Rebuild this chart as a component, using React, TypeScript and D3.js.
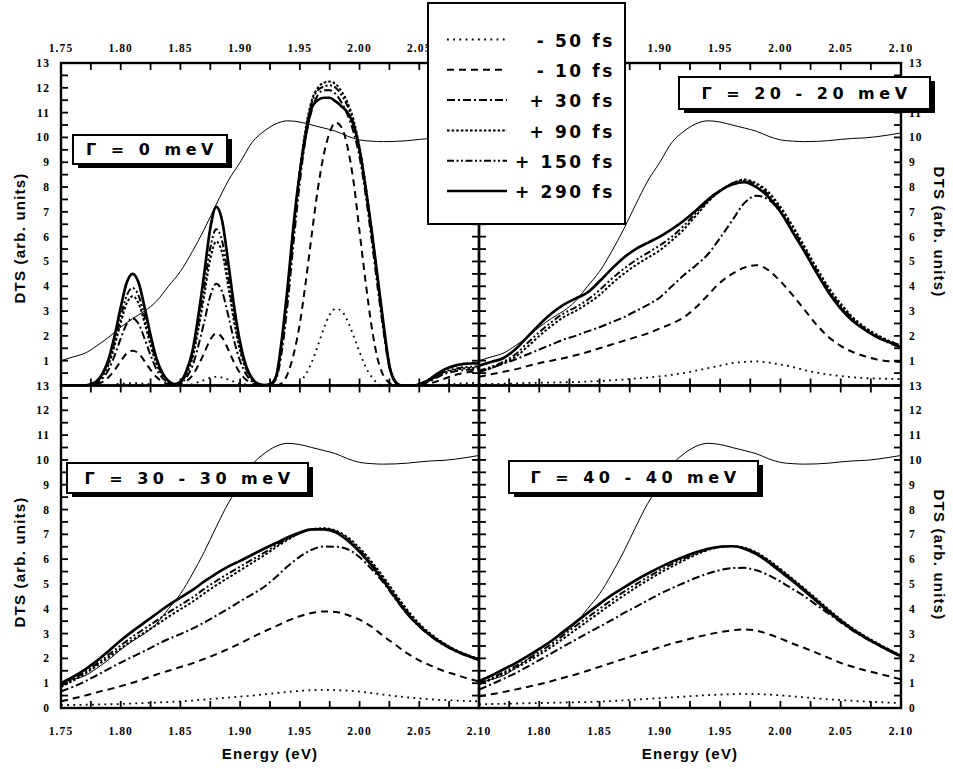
import React from "react";
import * as d3 from "d3";

// photon energy grids (eV)
const energyFine = [
  1.75, 1.755, 1.76, 1.765, 1.77, 1.775, 1.78, 1.785, 1.79, 1.795,
  1.8, 1.805, 1.81, 1.815, 1.82, 1.825, 1.83, 1.835, 1.84, 1.845,
  1.85, 1.855, 1.86, 1.865, 1.87, 1.875, 1.88, 1.885, 1.89, 1.895,
  1.9, 1.905, 1.91, 1.915, 1.92, 1.925, 1.93, 1.935, 1.94, 1.945,
  1.95, 1.955, 1.96, 1.965, 1.97, 1.975, 1.98, 1.985, 1.99, 1.995,
  2.0, 2.005, 2.01, 2.015, 2.02, 2.025, 2.03, 2.035, 2.04, 2.045,
  2.05, 2.055, 2.06, 2.065, 2.07, 2.075, 2.08, 2.085, 2.09, 2.095, 2.1,
];
const energy = [
  1.75, 1.76, 1.77, 1.78, 1.79, 1.8, 1.81, 1.82, 1.83, 1.84,
  1.85, 1.86, 1.87, 1.88, 1.89, 1.9, 1.91, 1.92, 1.93, 1.94,
  1.95, 1.96, 1.97, 1.98, 1.99, 2.0, 2.01, 2.02, 2.03, 2.04,
  2.05, 2.06, 2.07, 2.08, 2.09, 2.1,
];

// thin line, same in every panel
const absorption = [
  1.0, 1.15, 1.3, 1.6, 1.95, 2.35, 2.7, 3.0, 3.4, 4.0,
  4.6, 5.4, 6.3, 7.3, 8.25, 9.0, 9.8, 10.25, 10.55, 10.67,
  10.62, 10.5, 10.38, 10.25, 10.05, 9.9, 9.85, 9.83, 9.84, 9.87,
  9.92, 9.96, 9.98, 10.03, 10.1, 10.18,
];

const delays = ["- 50 fs", "- 10 fs", "+ 30 fs", "+ 90 fs", "+ 150 fs", "+ 290 fs"];

// Γ = 0 meV (fine grid)
const g0m50 = [0,0,0,0,0, 0,0,0,0,0.05, 0.07,0.09,0.1,0.09,0.07, 0.05,0.02,0,0,0, 0,0,0.05,0.14,0.22, 0.31,0.35,0.32,0.24,0.15, 0.08,0.04,0,0,0, 0,0,0,0,0, 0.15,0.45,0.95,1.6,2.3, 2.85,3.1,3.0,2.6,2.0, 1.35,0.75,0.35,0.1,0, 0,0,0,0,0, 0,0,0.01,0.02,0.03, 0.05,0.06,0.08,0.09,0.1,0.1];
const g0m10 = [0,0,0,0,0, 0.01,0.06,0.15,0.34,0.63, 0.98,1.29,1.4,1.29,0.98, 0.63,0.34,0.15,0.06,0.03, 0.06,0.17,0.4,0.82,1.32, 1.85,2.1,1.93,1.45,0.92, 0.5,0.23,0.08,0.02,0, 0,0,0.1,0.5,1.3, 2.5,4.2,6.1,7.9,9.3, 10.2,10.6,10.4,9.6,8.2, 6.2,4.2,2.4,1.1,0.4, 0.1,0,0,0,0, 0.01,0.04,0.1,0.17,0.26, 0.34,0.42,0.48,0.53,0.56,0.58];
const g0p30 = [0,0,0,0,0, 0.03,0.11,0.3,0.65,1.22, 1.89,2.48,2.7,2.48,1.89, 1.22,0.65,0.3,0.11,0.04, 0.09,0.33,0.78,1.6,2.58, 3.61,4.1,3.77,2.83,1.8, 0.98,0.45,0.16,0.04,0.01, 0.03,0.25,1.4,3.4,5.9, 8.2,10.0,11.1,11.7,11.9, 11.9,11.75,11.4,10.9,10.2, 9.2,7.7,5.9,4.0,2.2, 0.7,0.12,0,0,0, 0.03,0.1,0.2,0.33,0.44, 0.52,0.57,0.61,0.63,0.64,0.65];
const g0p90 = [0,0,0,0,0, 0.04,0.14,0.4,0.86,1.62, 2.52,3.31,3.6,3.31,2.52, 1.62,0.86,0.4,0.14,0.05, 0.12,0.46,1.1,2.26,3.65, 5.1,5.8,5.34,4.0,2.55, 1.39,0.64,0.23,0.06,0.01, 0.05,0.35,1.8,4.0,6.5, 8.7,10.4,11.5,12.0,12.2, 12.25,12.15,11.85,11.4,10.7, 9.6,8.1,6.3,4.3,2.4, 0.8,0.15,0,0,0, 0.04,0.12,0.24,0.38,0.5, 0.58,0.64,0.68,0.7,0.71,0.72];
const g0p150 = [0,0,0,0,0, 0.04,0.16,0.43,0.94,1.77, 2.75,3.62,3.93,3.62,2.75, 1.77,0.94,0.43,0.16,0.05, 0.13,0.5,1.2,2.46,3.97, 5.54,6.3,5.8,4.35,2.77, 1.51,0.69,0.25,0.06,0.01, 0.05,0.33,1.75,3.9,6.4, 8.6,10.3,11.4,11.9,12.05, 12.1,12.0,11.7,11.25,10.55, 9.5,8.0,6.2,4.25,2.35, 0.8,0.15,0,0,0, 0.04,0.13,0.26,0.4,0.53, 0.62,0.68,0.72,0.75,0.76,0.77];
const g0p290 = [0,0,0,0,0, 0.05,0.18,0.5,1.08,2.03, 3.15,4.14,4.5,4.14,3.15, 2.03,1.08,0.5,0.18,0.06, 0.15,0.58,1.37,2.81,4.54, 6.34,7.2,6.62,4.97,3.17, 1.73,0.79,0.29,0.07,0.02, 0.05,0.35,1.9,4.1,6.6, 8.6,10.1,11.2,11.5,11.6, 11.6,11.45,11.25,11.0,10.5, 9.5,8.0,6.3,4.4,2.5, 0.8,0.15,0,0,0, 0.05,0.15,0.3,0.47,0.62, 0.73,0.8,0.85,0.88,0.89,0.9];

// Γ = 20 - 20 meV
const g20m50 = [0.05,0.06,0.07,0.08,0.1,0.11,0.12,0.13,0.14,0.16, 0.18,0.21,0.24,0.28,0.32,0.37,0.43,0.5,0.6,0.7, 0.8,0.9,0.95,0.97,0.92,0.85,0.75,0.62,0.52,0.44, 0.38,0.33,0.3,0.28,0.27,0.26];
const g20m10 = [0.35,0.45,0.55,0.65,0.78,0.9,1.0,1.1,1.22,1.35, 1.5,1.65,1.8,1.95,2.1,2.3,2.5,2.75,3.15,3.65, 4.15,4.5,4.75,4.85,4.65,4.2,3.65,3.05,2.45,1.95, 1.6,1.35,1.18,1.05,0.98,0.95];
const g20p30 = [0.54,0.7,0.88,1.05,1.25,1.45,1.65,1.85,2.0,2.18, 2.35,2.55,2.75,3.0,3.25,3.55,4.0,4.45,4.85,5.3, 5.95,6.65,7.35,7.65,7.5,7.0,6.25,5.4,4.55,3.8, 3.15,2.65,2.25,1.95,1.72,1.52];
const g20p90 = [0.55,0.7,0.9,1.15,1.55,2.0,2.4,2.75,3.0,3.3, 3.65,4.1,4.5,4.85,5.15,5.45,5.85,6.3,6.85,7.4, 7.85,8.15,8.3,8.15,7.8,7.2,6.45,5.6,4.75,3.95, 3.3,2.75,2.35,2.05,1.8,1.6];
const g20p150 = [0.6,0.75,0.95,1.25,1.7,2.15,2.55,2.9,3.15,3.45, 3.85,4.3,4.7,5.05,5.35,5.65,6.0,6.45,6.95,7.45, 7.85,8.15,8.25,8.1,7.7,7.1,6.35,5.5,4.65,3.85, 3.2,2.7,2.3,2.0,1.8,1.6];
const g20p290 = [0.8,0.95,1.1,1.45,1.95,2.45,2.9,3.25,3.5,3.75, 4.2,4.7,5.15,5.5,5.75,6.0,6.3,6.65,7.05,7.5, 7.85,8.1,8.2,8.0,7.6,7.0,6.2,5.4,4.55,3.75, 3.1,2.6,2.25,1.95,1.75,1.55];

// Γ = 30 - 30 meV
const g30m50 = [0.12,0.12,0.13,0.14,0.15,0.16,0.18,0.2,0.22,0.24, 0.27,0.3,0.34,0.38,0.42,0.46,0.5,0.55,0.6,0.65, 0.69,0.72,0.73,0.72,0.7,0.66,0.6,0.54,0.48,0.43, 0.39,0.35,0.32,0.3,0.28,0.27];
const g30m10 = [0.27,0.38,0.5,0.63,0.75,0.88,1.02,1.18,1.35,1.5, 1.65,1.8,1.98,2.17,2.38,2.6,2.85,3.08,3.3,3.52, 3.7,3.83,3.89,3.87,3.75,3.56,3.28,2.9,2.55,2.2, 1.92,1.7,1.5,1.35,1.2,1.07];
const g30p30 = [0.67,0.85,1.07,1.32,1.58,1.83,2.07,2.3,2.55,2.78, 2.98,3.2,3.45,3.72,4.0,4.3,4.58,4.88,5.28,5.72, 6.1,6.38,6.51,6.5,6.4,6.08,5.6,5.05,4.4,3.78, 3.28,2.88,2.55,2.3,2.1,1.93];
const g30p90 = [0.85,1.1,1.38,1.7,2.05,2.4,2.75,3.05,3.35,3.68, 3.98,4.28,4.62,4.95,5.25,5.55,5.85,6.15,6.48,6.78, 7.05,7.2,7.25,7.15,6.88,6.45,5.9,5.28,4.6,3.95, 3.4,2.97,2.63,2.35,2.15,1.97];
const g30p150 = [0.9,1.15,1.45,1.78,2.15,2.52,2.88,3.2,3.52,3.85, 4.15,4.45,4.8,5.12,5.42,5.7,5.98,6.25,6.55,6.82, 7.05,7.2,7.22,7.12,6.82,6.38,5.82,5.2,4.52,3.88, 3.35,2.93,2.6,2.33,2.13,1.96];
const g30p290 = [1.0,1.25,1.55,1.9,2.3,2.72,3.1,3.45,3.8,4.15, 4.45,4.75,5.1,5.42,5.7,5.93,6.18,6.42,6.65,6.88, 7.07,7.2,7.2,7.08,6.75,6.3,5.75,5.12,4.45,3.8, 3.3,2.9,2.58,2.32,2.12,1.95];

// Γ = 40 - 40 meV
const g40m50 = [0.15,0.16,0.17,0.18,0.19,0.2,0.21,0.22,0.23,0.24, 0.26,0.28,0.31,0.34,0.37,0.4,0.43,0.46,0.49,0.52, 0.54,0.56,0.57,0.56,0.54,0.51,0.47,0.43,0.39,0.35, 0.32,0.29,0.26,0.24,0.22,0.2];
const g40m10 = [0.47,0.55,0.64,0.74,0.85,0.96,1.08,1.22,1.35,1.5, 1.66,1.82,1.98,2.14,2.29,2.45,2.6,2.72,2.85,2.96, 3.06,3.13,3.17,3.12,2.98,2.8,2.6,2.42,2.22,2.02, 1.82,1.66,1.52,1.4,1.28,1.15];
const g40p30 = [0.74,0.95,1.17,1.4,1.66,1.93,2.2,2.48,2.75,3.02, 3.28,3.54,3.82,4.08,4.34,4.6,4.83,5.04,5.25,5.42, 5.56,5.64,5.65,5.55,5.36,5.1,4.8,4.5,4.15,3.8, 3.45,3.12,2.83,2.56,2.31,2.07];
const g40p90 = [0.95,1.15,1.37,1.6,1.86,2.15,2.46,2.8,3.15,3.5, 3.85,4.2,4.53,4.85,5.15,5.44,5.7,5.95,6.18,6.37, 6.49,6.53,6.47,6.27,5.97,5.6,5.21,4.81,4.39,3.97, 3.57,3.21,2.9,2.62,2.36,2.12];
const g40p150 = [1.0,1.2,1.43,1.68,1.95,2.25,2.57,2.93,3.3,3.65, 4.0,4.35,4.68,4.98,5.27,5.55,5.8,6.02,6.23,6.4, 6.5,6.53,6.45,6.24,5.93,5.56,5.17,4.77,4.35,3.93, 3.54,3.18,2.87,2.6,2.34,2.1];
const g40p290 = [1.08,1.3,1.55,1.8,2.08,2.38,2.7,3.08,3.45,3.83, 4.2,4.55,4.85,5.15,5.42,5.67,5.9,6.1,6.28,6.42, 6.5,6.52,6.42,6.2,5.88,5.5,5.12,4.72,4.3,3.88, 3.5,3.15,2.85,2.58,2.32,2.09];

// line look for each delay, same order as delays
const lineStyles = [
  { dash: "1.8,4.4", width: 1.8 },
  { dash: "7,5", width: 2 },
  { dash: "8,3,2,3", width: 2 },
  { dash: "2.6,2", width: 2 },
  { dash: "7,2.5,2,2.5,2,2.5", width: 2 },
  { dash: "none", width: 2.7 },
];

const L = 61, M = 479, R = 901, T = 63, MY = 385.5, B = 708;

const xLeft = d3.scaleLinear().domain([1.75, 2.1]).range([L, M]);
const xRight = d3.scaleLinear().domain([1.75, 2.1]).range([M, R]);
const yTop = d3.scaleLinear().domain([0, 13]).range([MY, T]);
const yBot = d3.scaleLinear().domain([0, 13]).range([B, MY]);

const panels = [
  { id: "p0", label: "Γ = 0 meV", xs: energyFine, series: [g0m50, g0m10, g0p30, g0p90, g0p150, g0p290], x: xLeft, y: yTop, box: [73, 135, 154, 29] },
  { id: "p20", label: "Γ = 20 - 20 meV", xs: energy, series: [g20m50, g20m10, g20p30, g20p90, g20p150, g20p290], x: xRight, y: yTop, box: [679, 77, 251, 32] },
  { id: "p30", label: "Γ = 30 - 30 meV", xs: energy, series: [g30m50, g30m10, g30p30, g30p90, g30p150, g30p290], x: xLeft, y: yBot, box: [67, 463, 241, 30] },
  { id: "p40", label: "Γ = 40 - 40 meV", xs: energy, series: [g40m50, g40m10, g40p30, g40p90, g40p150, g40p290], x: xRight, y: yBot, box: [509, 461, 249, 32] },
];

const xTicks = d3.range(0, 15).map((i) => 1.75 + i * 0.025);
const yTicks = d3.range(0, 27).map((i) => i * 0.5);
// labels the legend and the Γ boxes leave visible
const xTopLeft = [1.75, 1.8, 1.85, 1.9, 1.95, 2.0, 2.05];
const xTopRight = [1.9, 1.95, 2.0, 2.05, 2.1];
const xBotLeft = [1.75, 1.8, 1.85, 1.9, 1.95, 2.0, 2.05, 2.1];
const xBotRight = [1.8, 1.85, 1.9, 1.95, 2.0, 2.05, 2.1];
const yLabelsTopLeft = [1, 2, 3, 4, 5, 6, 7, 8, 9, 10, 11, 12, 13];
const yLabelsTopRight = [1, 2, 3, 4, 5, 6, 7, 8, 9, 10, 11, 13];
const yLabelsBot = [0, 1, 2, 3, 4, 5, 6, 7, 8, 9, 10, 11, 12, 13];

const fmt = d3.format(".2f");
const tickFont = { fontFamily: "'Liberation Serif', serif", fontWeight: 700, fontSize: 11.5, letterSpacing: 1.1 };
const titleFont = { fontFamily: "'Liberation Sans', Arial, sans-serif", fontWeight: 700, fontSize: 15, letterSpacing: 1.2 };
const boxFont = { fontFamily: "'DejaVu Sans', sans-serif", fontWeight: 700, fontSize: 16, letterSpacing: 4.5 };
const legendFont = { fontFamily: "'DejaVu Sans', sans-serif", fontWeight: 700, fontSize: 17, letterSpacing: 2.6 };

export default function App() {
  return (
    <svg width={953} height={769} style={{ position: "absolute", left: 0, top: 0, background: "#fff" }}>
      {panels.map((p) => {
        const [x0, x1] = p.x.range();
        const [y0, y1] = p.y.range();
        const line = d3
          .line<number>()
          .x((_, i) => p.x(p.xs[i]))
          .y((d) => p.y(d))
          .curve(d3.curveMonotoneX);
        const absLine = d3
          .line<number>()
          .x((_, i) => p.x(energy[i]))
          .y((d) => p.y(d))
          .curve(d3.curveMonotoneX);
        return (
          <g key={p.id}>
            <clipPath id={"clip-" + p.id}>
              <rect x={x0} y={y1} width={x1 - x0} height={y0 - y1} />
            </clipPath>
            <g clipPath={`url(#clip-${p.id})`} fill="none" stroke="#000">
              <path d={absLine(absorption) || ""} strokeWidth={1} />
              {p.series.map((s, i) => (
                <path
                  key={i}
                  d={line(s) || ""}
                  strokeWidth={lineStyles[i].width}
                  strokeDasharray={lineStyles[i].dash}
                />
              ))}
            </g>
            <g stroke="#000" strokeWidth={1.8}>
              {xTicks.map((t) => (
                <g key={t}>
                  <line x1={p.x(t)} x2={p.x(t)} y1={y1} y2={y1 + 7} />
                  <line x1={p.x(t)} x2={p.x(t)} y1={y0} y2={y0 - 7} />
                </g>
              ))}
              {yTicks.map((t) => (
                <g key={t}>
                  <line x1={x0} x2={x0 + 7} y1={p.y(t)} y2={p.y(t)} />
                  <line x1={x1} x2={x1 - 7} y1={p.y(t)} y2={p.y(t)} />
                </g>
              ))}
            </g>
            <rect x={x0} y={y1} width={x1 - x0} height={y0 - y1} fill="none" stroke="#000" strokeWidth={2.4} />
          </g>
        );
      })}

      {/* energy tick labels */}
      <g style={tickFont} textAnchor="middle">
        {xTopLeft.map((t) => (
          <text key={"tl" + t} x={xLeft(t)} y={52}>{fmt(t)}</text>
        ))}
        {xTopRight.map((t) => (
          <text key={"tr" + t} x={xRight(t)} y={52}>{fmt(t)}</text>
        ))}
        {xBotLeft.map((t) => (
          <text key={"bl" + t} x={xLeft(t)} y={735}>{fmt(t)}</text>
        ))}
        {xBotRight.map((t) => (
          <text key={"br" + t} x={xRight(t)} y={735}>{fmt(t)}</text>
        ))}
      </g>

      {/* DTS tick labels */}
      <g style={tickFont}>
        {yLabelsTopLeft.map((t) => (
          <text key={"tl" + t} x={50} y={yTop(t)} dy="0.35em" textAnchor="end">{t}</text>
        ))}
        {yLabelsTopRight.map((t) => (
          <text key={"tr" + t} x={909} y={yTop(t)} dy="0.35em">{t}</text>
        ))}
        {yLabelsBot.map((t) => (
          <g key={"b" + t}>
            <text x={50} y={yBot(t)} dy="0.35em" textAnchor="end">{t}</text>
            <text x={909} y={yBot(t)} dy="0.35em">{t}</text>
          </g>
        ))}
      </g>

      {/* axis titles */}
      <g style={titleFont} textAnchor="middle">
        <text transform="translate(25,238) rotate(-90)">DTS (arb. units)</text>
        <text transform="translate(25,562) rotate(-90)">DTS (arb. units)</text>
        <text transform="translate(934,232) rotate(90)">DTS (arb. units)</text>
        <text transform="translate(934,555) rotate(90)">DTS (arb. units)</text>
        <text x={(L + M) / 2} y={759}>Energy (eV)</text>
        <text x={(M + R) / 2} y={759}>Energy (eV)</text>
      </g>

      {/* Γ labels */}
      {panels.map((p) => {
        const [bx, by, bw, bh] = p.box;
        return (
          <g key={"box" + p.id}>
            <rect x={bx + 5} y={by + 4} width={bw} height={bh} fill="#000" />
            <rect x={bx} y={by} width={bw} height={bh} fill="#fff" stroke="#000" strokeWidth={2} />
            <text x={bx + bw / 2 + 2} y={by + bh / 2} dy="0.36em" textAnchor="middle" style={boxFont}>
              {p.label}
            </text>
          </g>
        );
      })}

      {/* legend */}
      <g>
        <rect x={428} y={3} width={197} height={221} fill="#fff" stroke="#000" strokeWidth={2} />
        {delays.map((d, i) => {
          const cy = 40.5 + i * 30.3;
          return (
            <g key={d}>
              <line
                x1={447}
                x2={507}
                y1={cy - 1}
                y2={cy - 1}
                stroke="#000"
                strokeWidth={lineStyles[i].width}
                strokeDasharray={lineStyles[i].dash}
              />
              <text x={615} y={cy} dy="0.36em" textAnchor="end" style={legendFont}>
                {d}
              </text>
            </g>
          );
        })}
      </g>
    </svg>
  );
}
